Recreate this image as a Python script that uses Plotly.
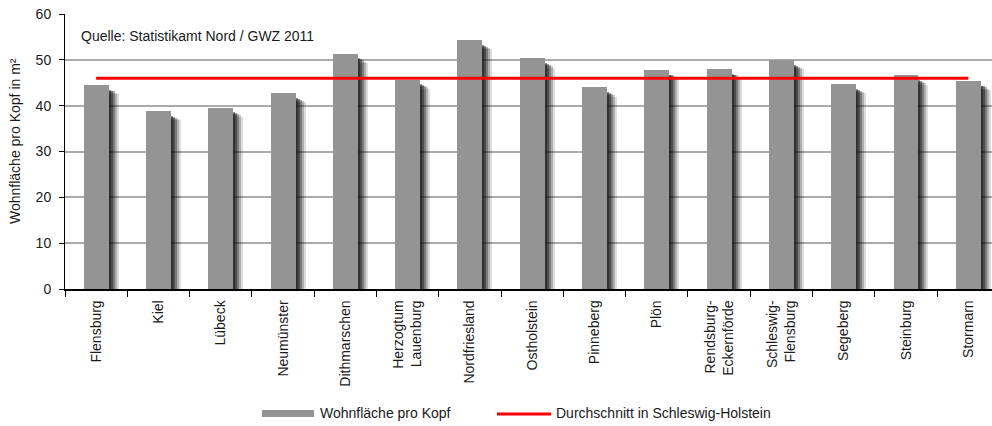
import plotly.graph_objects as go

categories = ["Flensburg", "Kiel", "Lübeck", "Neumünster", "Dithmarschen",
              "Herzogtum<br>Lauenburg", "Nordfriesland", "Ostholstein", "Pinneberg",
              "Plön", "Rendsburg-<br>Eckernförde", "Schleswig-<br>Flensburg",
              "Segeberg", "Steinburg", "Stormarn"]
wohnflaeche = [44.5, 38.8, 39.6, 42.7, 51.3, 45.7, 54.3, 50.3, 44.0,
               47.8, 48.0, 49.9, 44.7, 46.6, 45.4]
durchschnitt = [46.0] * len(categories)
y_ticks = [0, 10, 20, 30, 40, 50, 60]

FONT = "Liberation Sans, Arial, sans-serif"
W, H = 992, 426
L, R, T, B = 65, 0, 14, 137
PW, PH = W - L - R, H - T - B

fig = go.Figure()

# soft drop shadow layers behind the bars
BAR_W = 0.40
px = 1 / 62.3
for ext, drop, op in [(10, 2.0, 0.14), (8, 1.7, 0.22), (6, 1.4, 0.32),
                      (4, 1.2, 0.42), (2, 1.0, 0.45)]:
    fig.add_trace(go.Bar(
        x=categories, y=[v - drop for v in wohnflaeche],
        width=BAR_W + ext * px - 4 * px, offset=-BAR_W / 2 + 4 * px,
        marker=dict(color=f"rgba(15,15,15,{op})", line=dict(width=0)),
        showlegend=False, hoverinfo="skip"))

fig.add_trace(go.Bar(
    x=categories, y=wohnflaeche, name="Wohnfläche pro Kopf",
    width=BAR_W, offset=-BAR_W / 2,
    marker=dict(color="#949494", line=dict(width=0)),
    showlegend=False))

fig.add_trace(go.Scatter(
    x=categories, y=durchschnitt, mode="lines",
    name="Durchschnitt in Schleswig-Holstein",
    line=dict(color="#ff0000", width=3), showlegend=False))

def px_x(p):
    return (p - L) / PW

def px_y(p):
    return (H - B - p) / PH

shapes = [
    dict(type="rect", xref="paper", yref="paper",
         x0=px_x(262), x1=px_x(314), y0=px_y(417), y1=px_y(410),
         fillcolor="#949494", line=dict(width=0)),
    dict(type="line", xref="paper", yref="paper",
         x0=px_x(497), x1=px_x(551), y0=px_y(414), y1=px_y(414),
         line=dict(color="#ff0000", width=3)),
]

annotations = [
    dict(text="Quelle: Statistikamt Nord / GWZ 2011", xref="paper", yref="paper",
         x=px_x(79), y=px_y(36), xanchor="left", yanchor="middle", showarrow=False,
         font=dict(family=FONT, size=14, color="#1a1a1a")),
    dict(text="Wohnfläche pro Kopf in m²", xref="paper", yref="paper",
         x=px_x(15), y=px_y(141), xanchor="center", yanchor="middle", showarrow=False,
         textangle=-90, font=dict(family=FONT, size=14, color="#1a1a1a")),
    dict(text="Wohnfläche pro Kopf", xref="paper", yref="paper",
         x=px_x(318), y=px_y(413), xanchor="left", yanchor="middle", showarrow=False,
         font=dict(family=FONT, size=14, color="#1a1a1a")),
    dict(text="Durchschnitt in Schleswig-Holstein", xref="paper", yref="paper",
         x=px_x(554), y=px_y(413), xanchor="left", yanchor="middle", showarrow=False,
         font=dict(family=FONT, size=14, color="#1a1a1a")),
]

fig.update_layout(
    width=W, height=H,
    margin=dict(l=L, r=R, t=T, b=B, pad=0),
    plot_bgcolor="white", paper_bgcolor="white",
    barmode="overlay", bargap=0,
    showlegend=False,
    font=dict(family=FONT, size=14, color="#1a1a1a"),
    shapes=shapes, annotations=annotations,
    xaxis=dict(
        type="category", range=[-0.5, 14.38],
        tickson="boundaries", ticks="outside", ticklen=6, tickcolor="#000000", tickwidth=1,
        tickangle=-90, tickfont=dict(family=FONT, size=14, color="#1a1a1a"),
        ticklabelstandoff=4,
        showline=True, linecolor="#000000", linewidth=1.5,
        showgrid=False, zeroline=False, fixedrange=True),
    yaxis=dict(
        range=[0, 60], tickvals=y_ticks, ticks="outside", ticklen=5,
        tickcolor="#000000", tickwidth=1,
        tickfont=dict(family=FONT, size=14, color="#1a1a1a"),
        ticklabelstandoff=5,
        showline=True, linecolor="#000000", linewidth=1,
        showgrid=True, gridcolor="#ababab", gridwidth=1.5,
        zeroline=False, fixedrange=True),
)

fig.write_html("out.html", config={"displayModeBar": False},
               post_script="document.body.style.margin='0';document.body.style.overflow='hidden';")
